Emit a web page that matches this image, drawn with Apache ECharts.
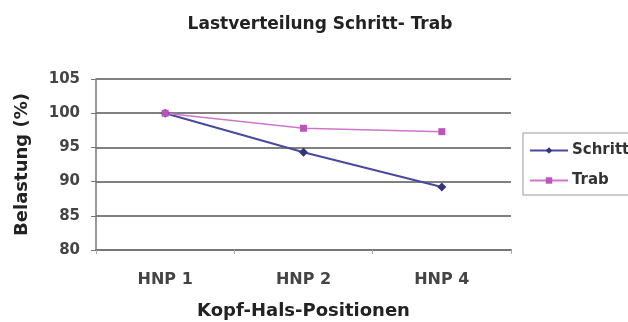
<!DOCTYPE html>
<html>
<head>
<meta charset="utf-8">
<script src="https://cdn.jsdelivr.net/npm/echarts@6/dist/echarts.min.js"></script>
<style>
  html, body { margin: 0; padding: 0; background: #fff; }
  #chart { width: 628px; height: 322px; }
</style>
</head>
<body>
<div id="chart"></div>
<script>
// Head-neck positions on the x axis
const categories = ['HNP 1', 'HNP 2', 'HNP 4'];
// Load share (%) per gait
const schritt = [100, 94.3, 89.2];
const trab = [100, 97.8, 97.3];
// Value axis range
const yMin = 80, yMax = 105, yStep = 5;

const chart = echarts.init(document.getElementById('chart'));
const font = '"DejaVu Sans", Verdana, sans-serif';

chart.setOption({
  animation: false,
  title: {
    text: 'Lastverteilung Schritt- Trab',
    left: 315, top: 11, textAlign: 'center',
    textStyle: { fontFamily: font, fontSize: 17, fontWeight: 'bold', color: '#222' }
  },
  grid: { left: 96, right: 117, top: 79, bottom: 72, outerBoundsMode: 'none' },
  legend: {
    orient: 'vertical',
    left: 523, top: 133,
    padding: [10, 6, 7, 6],
    itemGap: 15,
    itemWidth: 38, itemHeight: 8,
    borderColor: '#999', borderWidth: 1,
    textStyle: { fontFamily: font, fontSize: 15, fontWeight: 'bold', color: '#333', padding: [0, 0, 0, -1] },
    data: ['Schritt', 'Trab']
  },
  xAxis: {
    type: 'category',
    data: categories,
    boundaryGap: true,
    name: 'Kopf-Hals-Positionen',
    nameLocation: 'middle', nameGap: 52,
    nameTextStyle: { fontFamily: font, fontSize: 18, fontWeight: 'bold', color: '#222' },
    axisLine: { lineStyle: { color: '#777', width: 2 } },
    axisTick: { show: true, length: 4, lineStyle: { color: '#aaa' } },
    axisLabel: { fontFamily: font, fontSize: 16, fontWeight: 'bold', color: '#444', margin: 22 }
  },
  yAxis: {
    type: 'value',
    min: yMin, max: yMax, interval: yStep,
    name: 'Belastung (%)',
    nameLocation: 'middle', nameGap: 65, nameRotate: 90,
    nameTextStyle: { fontFamily: font, fontSize: 18, fontWeight: 'bold', color: '#222' },
    axisLine: { show: true, lineStyle: { color: '#777', width: 1.5 } },
    axisTick: { show: true, length: 5, lineStyle: { color: '#777' } },
    axisLabel: { fontFamily: font, fontSize: 15, fontWeight: 'bold', color: '#444', margin: 16 },
    splitLine: { lineStyle: { color: '#808080', width: 2 } }
  },
  series: [
    {
      name: 'Schritt', type: 'line', data: schritt,
      symbol: 'diamond', symbolSize: 9,
      lineStyle: { color: '#4a4a9c', width: 2 },
      itemStyle: { color: '#33337f' }
    },
    {
      name: 'Trab', type: 'line', data: trab,
      symbol: 'rect', symbolSize: 7,
      lineStyle: { color: '#cc77cc', width: 1.5 },
      itemStyle: { color: '#bb55bb' }
    }
  ]
});
</script>
</body>
</html>
